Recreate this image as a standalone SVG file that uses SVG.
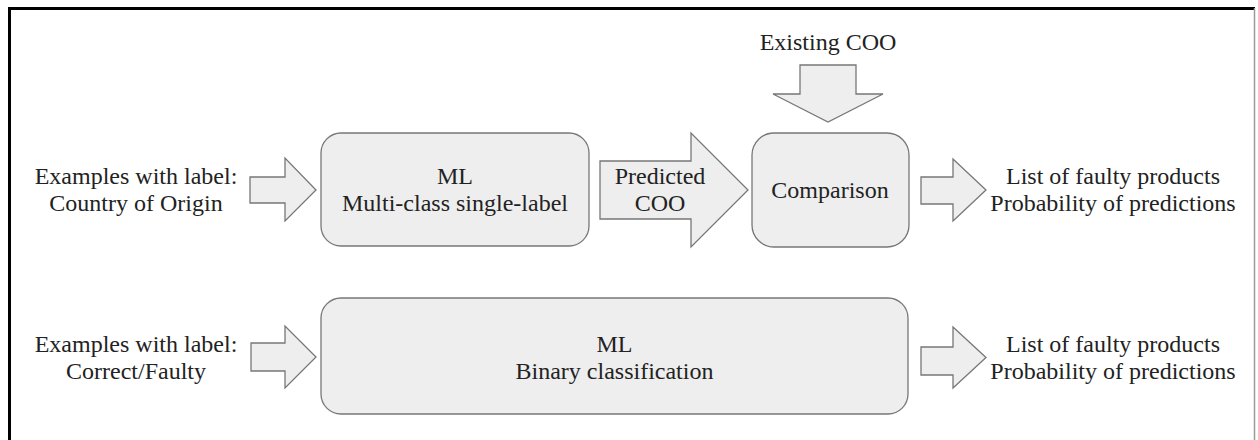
<svg xmlns="http://www.w3.org/2000/svg" width="1258" height="440" viewBox="0 0 1258 440">
  <style>
    .box { fill: #eeeeee; stroke: #777777; stroke-width: 1.3; }
    .arrow { fill: #eeeeee; stroke: #777777; stroke-width: 1.3; stroke-linejoin: miter; }
    .lbl { font-family: 'Liberation Serif', 'DejaVu Serif', serif; font-size: 24px; fill: #222222; text-anchor: middle; }
  </style>
  <rect x="0" y="0" width="1258" height="440" fill="#ffffff"/>

  <!-- outer frame -->
  <g id="frame">
    <path d="M9.5 440 V8.5 H1255" fill="none" stroke="#000000" stroke-width="3"/>
    <line x1="1254.5" y1="8" x2="1254.5" y2="440" stroke="#9a9a9a" stroke-width="1.5"/>
  </g>

  <!-- block arrows -->
  <g id="connectors">
    <polygon class="arrow" points="250,177 285,177 285,158 316,190 285,221 285,203 250,203"/>
    <polygon class="arrow" points="600,161 691,161 691,133 748,190 691,247 691,219 600,219"/>
    <polygon class="arrow" points="800,65 856,65 856,94 883,94 828,122 773,94 800,94"/>
    <polygon class="arrow" points="921,177 953,177 953,159 986,190 953,221 953,204 921,204"/>
    <polygon class="arrow" points="251,343 285,343 285,326 316,357 285,388 285,371 251,371"/>
    <polygon class="arrow" points="921,347 953,347 953,327 986,357.5 953,388 953,375 921,375"/>
  </g>

  <g font-family="Liberation Serif, serif">
  <g id="input-coo">
    <text class="lbl" x="136" y="184">Examples with label:</text>
    <text class="lbl" x="136" y="211">Country of Origin</text>
  </g>

  <g id="ml-multiclass">
    <rect class="box" x="321" y="133" width="268" height="113" rx="20" ry="20"/>
    <text class="lbl" x="455" y="184">ML</text>
    <text class="lbl" x="455" y="211">Multi-class single-label</text>
  </g>

  <g id="predicted-coo">
    <text class="lbl" x="660" y="184">Predicted</text>
    <text class="lbl" x="660" y="211">COO</text>
  </g>

  <g id="existing-coo">
    <text class="lbl" x="828" y="50">Existing COO</text>
  </g>

  <g id="comparison">
    <rect class="box" x="752" y="133" width="157" height="114" rx="22" ry="22"/>
    <text class="lbl" x="830" y="198">Comparison</text>
  </g>

  <g id="output-1">
    <text class="lbl" x="1113" y="184">List of faulty products</text>
    <text class="lbl" x="1113" y="211">Probability of predictions</text>
  </g>

  <g id="input-faulty">
    <text class="lbl" x="136" y="352">Examples with label:</text>
    <text class="lbl" x="136" y="379">Correct/Faulty</text>
  </g>

  <g id="ml-binary">
    <rect class="box" x="321" y="298" width="587" height="116" rx="20" ry="20"/>
    <text class="lbl" x="614.5" y="352">ML</text>
    <text class="lbl" x="614.5" y="379">Binary classification</text>
  </g>

  <g id="output-2">
    <text class="lbl" x="1113" y="352">List of faulty products</text>
    <text class="lbl" x="1113" y="379">Probability of predictions</text>
  </g>
  </g>
</svg>
